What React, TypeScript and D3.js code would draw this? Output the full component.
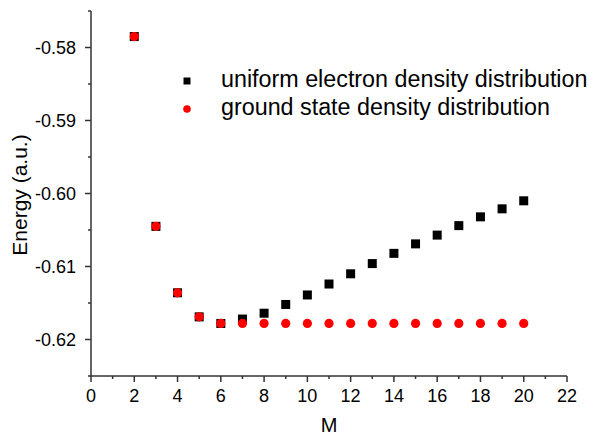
import { useEffect, useRef } from 'react';
import * as d3 from 'd3';

const mValues = [2, 3, 4, 5, 6, 7, 8, 9, 10, 11, 12, 13, 14, 15, 16, 17, 18, 19, 20];
const uniformEnergy = [
  -0.5785, -0.6045, -0.6136, -0.6169, -0.6178, -0.6172, -0.6164, -0.6152, -0.6139, -0.6124,
  -0.611, -0.6096, -0.6082, -0.6069, -0.6057, -0.6044, -0.6032, -0.6021, -0.601,
];
const groundEnergy = [
  -0.5785, -0.6045, -0.6136, -0.6169, -0.6178, -0.6178, -0.6178, -0.6178, -0.6178, -0.6178,
  -0.6178, -0.6178, -0.6178, -0.6178, -0.6178, -0.6178, -0.6178, -0.6178, -0.6178,
];
const xTicks = [0, 2, 4, 6, 8, 10, 12, 14, 16, 18, 20, 22];
const yTicks = [-0.62, -0.61, -0.6, -0.59, -0.58];
const yTickLabels = ['-0.62', '-0.61', '-0.60', '-0.59', '-0.58'];
const seriesNames = ['uniform electron density distribution', 'ground state density distribution'];

const W = 591;
const H = 435;
const font = 'Arial, "Liberation Sans", sans-serif';

export default function App() {
  const svgRef = useRef<SVGSVGElement>(null);

  useEffect(() => {
    if (!svgRef.current) return;
    const svg = d3.select(svgRef.current);
    svg.selectAll('*').remove();

    const x = d3.scaleLinear().domain([0, 22]).range([91, 567]);
    const y = d3.scaleLinear().domain([-0.625, -0.575]).range([376, 11]);
    const axisColor = '#333';

    // x axis
    const gx = svg.append('g').attr('transform', `translate(0,${y(-0.625)})`);
    gx.append('line').attr('x1', x(0)).attr('x2', x(22)).attr('stroke', axisColor).attr('stroke-width', 1.5);
    gx.selectAll('line.minor')
      .data(d3.range(1, 22, 2))
      .join('line')
      .attr('class', 'minor')
      .attr('x1', (d) => x(d)).attr('x2', (d) => x(d))
      .attr('y1', 0).attr('y2', 3)
      .attr('stroke', axisColor).attr('stroke-width', 1.5);
    gx.selectAll('line.major')
      .data(xTicks)
      .join('line')
      .attr('class', 'major')
      .attr('x1', (d) => x(d)).attr('x2', (d) => x(d))
      .attr('y1', 0).attr('y2', 6)
      .attr('stroke', axisColor).attr('stroke-width', 1.5);
    gx.selectAll('text')
      .data(xTicks)
      .join('text')
      .attr('x', (d) => x(d))
      .attr('y', 25.5)
      .attr('text-anchor', 'middle')
      .attr('font-family', font)
      .attr('font-size', 18)
      .text((d) => d);

    // y axis
    const gy = svg.append('g').attr('transform', `translate(${x(0)},0)`);
    gy.append('line').attr('y1', y(-0.625)).attr('y2', y(-0.575)).attr('stroke', axisColor).attr('stroke-width', 1.5);
    gy.selectAll('line.minor')
      .data([-0.625, -0.615, -0.605, -0.595, -0.585, -0.575])
      .join('line')
      .attr('class', 'minor')
      .attr('y1', (d) => y(d)).attr('y2', (d) => y(d))
      .attr('x1', 0).attr('x2', -3)
      .attr('stroke', axisColor).attr('stroke-width', 1.5);
    gy.selectAll('line.major')
      .data(yTicks)
      .join('line')
      .attr('class', 'major')
      .attr('y1', (d) => y(d)).attr('y2', (d) => y(d))
      .attr('x1', 0).attr('x2', -6)
      .attr('stroke', axisColor).attr('stroke-width', 1.5);
    gy.selectAll('text')
      .data(yTicks)
      .join('text')
      .attr('x', -15)
      .attr('y', (d) => y(d))
      .attr('dy', '0.36em')
      .attr('text-anchor', 'end')
      .attr('font-family', font)
      .attr('font-size', 18)
      .text((_, i) => yTickLabels[i]);

    // axis titles
    svg.append('text')
      .attr('x', (x(0) + x(22)) / 2)
      .attr('y', 432)
      .attr('text-anchor', 'middle')
      .attr('font-family', font)
      .attr('font-size', 20)
      .text('M');
    svg.append('text')
      .attr('transform', `translate(27,195) rotate(-90)`)
      .attr('text-anchor', 'middle')
      .attr('font-family', font)
      .attr('font-size', 21)
      .text('Energy (a.u.)');

    // uniform: black squares
    const sq = 9;
    svg.append('g')
      .selectAll('rect')
      .data(mValues.map((m, i) => [m, uniformEnergy[i]]))
      .join('rect')
      .attr('x', (d) => x(d[0]) - sq / 2)
      .attr('y', (d) => y(d[1]) - sq / 2)
      .attr('width', sq)
      .attr('height', sq)
      .attr('fill', '#000');

    // ground state: red circles
    svg.append('g')
      .selectAll('circle')
      .data(mValues.map((m, i) => [m, groundEnergy[i]]))
      .join('circle')
      .attr('cx', (d) => x(d[0]))
      .attr('cy', (d) => y(d[1]))
      .attr('r', 4.6)
      .attr('fill', '#ff0000');

    // legend
    const lg = svg.append('g');
    lg.append('rect').attr('x', 183.5).attr('y', 77.5).attr('width', 7).attr('height', 7).attr('fill', '#000');
    lg.append('circle').attr('cx', 187).attr('cy', 109).attr('r', 3.8).attr('fill', '#ff0000');
    lg.selectAll('text')
      .data(seriesNames)
      .join('text')
      .attr('x', 221)
      .attr('y', (_, i) => 87 + i * 27.5)
      .attr('font-family', font)
      .attr('font-size', 23.3)
      .text((d) => d);
  }, []);

  return (
    <svg ref={svgRef} width={W} height={H} style={{ position: 'absolute', left: 0, top: 0, background: '#fff' }} />
  );
}
